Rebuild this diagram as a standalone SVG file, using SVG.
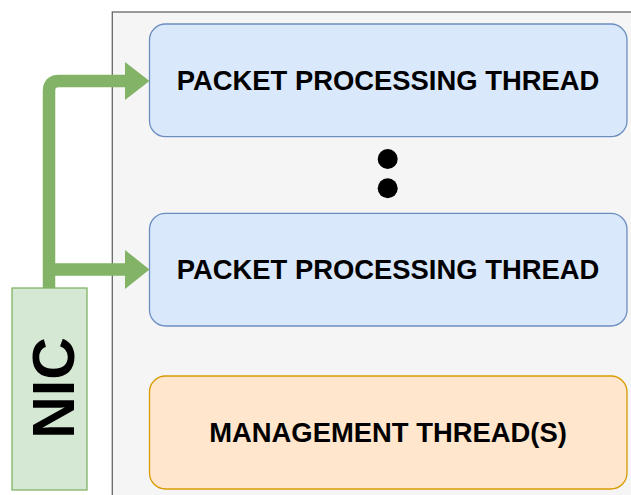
<svg xmlns="http://www.w3.org/2000/svg" width="631" height="495" viewBox="0 0 631 495">
<style>
.lbl{font-family:"Liberation Sans",Arial,sans-serif;font-weight:bold;fill:#000;text-anchor:middle}
.blue{fill:#dae8fc;stroke:#6c8ebf;stroke-width:1.3}
.orange{fill:#ffe6cc;stroke:#d79b00;stroke-width:1.3}
.green{fill:#d5e8d4;stroke:#82b366;stroke-width:1.3}
.flow{fill:none;stroke:#82b366;stroke-width:12.5;stroke-linejoin:round}
.head{fill:#82b366}
</style>
<rect width="631" height="495" fill="#ffffff"/>
<g id="container">
<rect x="112.3" y="12" width="540" height="500" fill="#f5f5f5" stroke="#666666" stroke-width="1.3"/>
</g>
<g id="thread1">
<rect class="blue" x="149.5" y="24" width="477.5" height="112.7" rx="16" ry="16"/>
<text class="lbl" x="388" y="90.3" font-size="27.4">PACKET PROCESSING THREAD</text>
</g>
<g id="ellipsis">
<circle cx="387.7" cy="159" r="10"/>
<circle cx="387.7" cy="188.3" r="10"/>
</g>
<g id="thread2">
<rect class="blue" x="149.5" y="213.3" width="477.5" height="112.7" rx="16" ry="16"/>
<text class="lbl" x="388" y="279.3" font-size="27.4">PACKET PROCESSING THREAD</text>
</g>
<g id="management">
<rect class="orange" x="149.5" y="376" width="477.5" height="113" rx="16" ry="16"/>
<text class="lbl" x="388" y="442.3" font-size="27.4">MANAGEMENT THREAD(S)</text>
</g>
<g id="connectors">
<path class="flow" d="M49 288 V91 Q49 81 59 81 H127"/>
<path class="flow" d="M49 269.5 H127"/>
<polygon class="head" points="125,62 149.5,81 125,100"/>
<polygon class="head" points="125,250 149.5,269.5 125,289"/>
</g>
<g id="nic">
<rect class="green" x="12" y="288" width="75" height="202"/>
<text class="lbl" font-size="59" transform="translate(74 388) rotate(-90)" x="0" y="0">NIC</text>
</g>
</svg>
